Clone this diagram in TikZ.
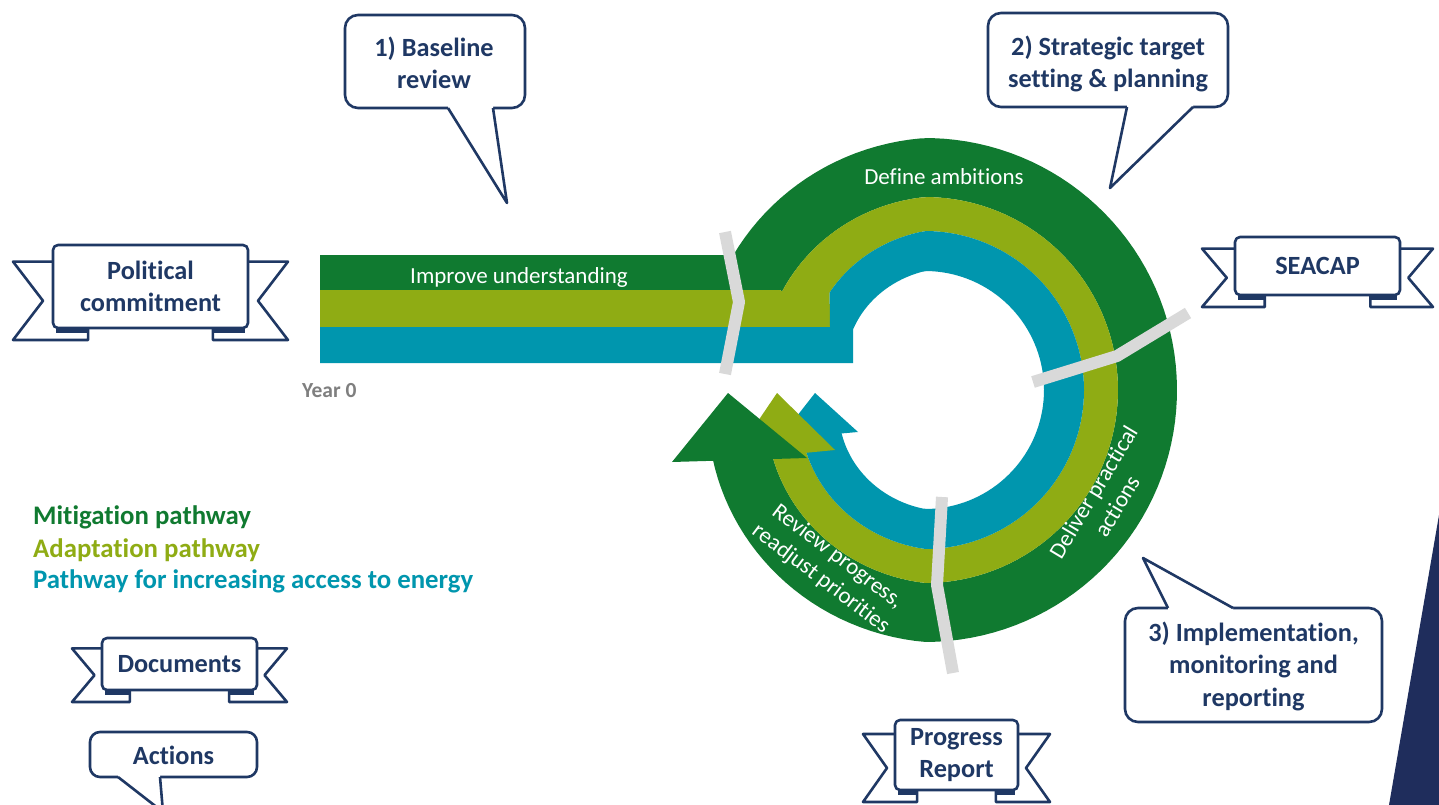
\documentclass[tikz,border=0pt]{standalone}
\usepackage{fontspec}
\setmainfont{Carlito}[Ligatures={NoCommon}]
\definecolor{mgreen}{HTML}{107A30}
\definecolor{mlime}{HTML}{8FAC14}
\definecolor{mteal}{HTML}{0096AE}
\definecolor{navy}{HTML}{1F3864}
\definecolor{sepgray}{HTML}{D9D9D9}
\definecolor{darknavy}{HTML}{1F2D5C}
\definecolor{yeargray}{HTML}{7F7F7F}
\newcommand\labfont{\bfseries\fontsize{26.3}{32.5}\selectfont}
\newcommand\spfont{\fontsize{23}{27.5}\selectfont}
\newcommand\legfont{\bfseries\fontsize{26.8}{32}\selectfont}
% ribbon banner: #1 name, #2 xl, #3 yt, #4 xr, #5 yb, #6 tail length, #7 text
\newcommand\myribbon[7]{%
  \pgfmathsetmacro\rbW{#4-#2}%
  \pgfmathsetmacro\rbH{#5-#3}%
  \pgfmathsetmacro\rbT{#3+0.2*\rbH}%
  \pgfmathsetmacro\rbB{#5+12}%
  \pgfmathsetmacro\rbN{(\rbT+\rbB)/2}%
  \pgfmathsetmacro\rbF{0.18*\rbW}%
  \pgfmathsetmacro\rbX{(#2+#4)/2}%
  \pgfmathsetmacro\rbY{(#3+#5)/2}%
  \filldraw[outl, fill=white] (#2+\rbF,#5) -- (#2+\rbF,\rbB) -- (#2-#6,\rbB) -- (#2-0.25*#6,\rbN) -- (#2-#6,\rbT) -- (#2+5,\rbT);
  \filldraw[outl, fill=white] (#4-\rbF,#5) -- (#4-\rbF,\rbB) -- (#4+#6,\rbB) -- (#4+0.25*#6,\rbN) -- (#4+#6,\rbT) -- (#4-5,\rbT);
  \fill[navy] (#2+3,#5) rectangle (#2+\rbF,#5+5);
  \fill[navy] (#4-3,#5) rectangle (#4-\rbF,#5+5);
  \node[ribbox, minimum width=\rbW pt, minimum height=\rbH pt] (#1) at (\rbX,\rbY) {#7};
}
% bubble tail: #1 base1, #2 tip, #3 base2, #4 #5 points inside the box
\newcommand\bubtail[5]{%
  \fill[white] #4 -- #1 -- #2 -- #3 -- #5 -- cycle;
  \draw[outl] #1 -- #2 -- #3;
}
\begin{document}
\begin{tikzpicture}[x=1pt, y=-1pt,
  declare function={
    rgo(\t)=252-0.32*max(0,270-\t)-0.4*max(0,\t-450);
    rlo(\t)=193-0.35*max(0,270-\t)-0.4*max(0,\t-450);
    rto(\t)=159-0.51*max(0,270-\t)-0.4*max(0,\t-450);
    rh(\t)=119-0.5*max(0,270-\t)-0.4*max(0,\t-450);
  },
  outl/.style={draw=navy, line width=2.6pt, line join=round},
  ribbox/.style={outl, fill=white, rounded corners=5pt, align=center, text=navy, font=\labfont, inner sep=0pt},
  bubble/.style={outl, fill=white, rounded corners=13pt, inner sep=0pt},
  labtext/.style={align=center, text=navy, font=\labfont, inner sep=0pt},
  sep/.style={draw=sepgray, line width=12pt, line join=round},
  sptext/.style={text=white, font=\spfont, align=center, inner sep=0pt},
  legtext/.style={font=\legfont, anchor=base west, inner sep=0pt}
]
\useasboundingbox (0,0) rectangle (1439,805);
\clip (0,0) rectangle (1439,805);
\fill[white] (0,0) rectangle (1439,805);

% dark navy corner
\fill[darknavy] (1439,515) -- (1389,805) -- (1439,805) -- cycle;

% bands
\fill[mgreen] (320,255) -- (733,255)
  -- plot[domain=215:522, samples=120] ({925+rgo(\x)*cos(\x)},{390+rgo(\x)*sin(\x)})
  -- plot[domain=522:214.6, samples=120] ({925+rlo(\x)*cos(\x)},{390+rlo(\x)*sin(\x)})
  -- (780,290) -- (320,290) -- cycle;
\fill[mlime] (320,290) -- (780,290)
  -- plot[domain=214.6:522, samples=120] ({925+rlo(\x)*cos(\x)},{390+rlo(\x)*sin(\x)})
  -- plot[domain=522:225.6, samples=120] ({925+rto(\x)*cos(\x)},{390+rto(\x)*sin(\x)})
  -- (830,327) -- (320,327) -- cycle;
\fill[mteal] (320,327) -- (830,327)
  -- plot[domain=225.6:522, samples=120] ({925+rto(\x)*cos(\x)},{390+rto(\x)*sin(\x)})
  -- plot[domain=522:220, samples=120] ({925+rh(\x)*cos(\x)},{390+rh(\x)*sin(\x)})
  -- (853,363) -- (320,363) -- cycle;

% arrow heads
\fill[mteal] (815,393) -- (858,432) -- (779,439) -- cycle;
\fill[mlime] (777,393) -- (835,450) -- (731.7,460) -- cycle;
\fill[mgreen] (728,393) -- (807,458) -- (672,462) -- cycle;

% separators
\coordinate (s1a) at (725,232); \coordinate (s1b) at (739,302); \coordinate (s1c) at (725,374);
\coordinate (s2a) at (1033,382); \coordinate (s2b) at (1117,356); \coordinate (s2c) at (1188,313);
\coordinate (s3a) at (942,497); \coordinate (s3b) at (937,585); \coordinate (s3c) at (953,673);
\draw[sep] (s1a) -- (s1b) -- (s1c);
\draw[sep] (s2a) -- (s2b) -- (s2c);
\draw[sep] (s3a) -- (s3b) -- (s3c);

% band texts
\node[sptext, anchor=base] (t1) at (519,283) {Improve understanding};
\node[sptext, anchor=base] (t2) at (944,185) {Define ambitions};
\node[sptext, rotate=59] (t3) at (1105,499) {Deliver practical\\actions};
\node[sptext, rotate=-37] (t4) at (829,568) {Review progress,\\readjust priorities};
\node[anchor=base west, inner sep=0pt, text=yeargray, font=\bfseries\fontsize{21.5}{24}\selectfont] (year) at (302,397) {Year 0};

% speech bubbles
\node[bubble, minimum width=180pt, minimum height=93pt] (b1) at (435,61.5) {};
\bubtail{(448,108)}{(507,203)}{(493,108)}{(448,102)}{(493,102)}
\node[labtext] (b1t) at (434,63) {1) Baseline\\review};
\node[bubble, minimum width=240pt, minimum height=94pt] (b2) at (1108,60) {};
\bubtail{(1127,107)}{(1110,188)}{(1193,107)}{(1127,101)}{(1193,101)}
\node[labtext] (b2t) at (1108,64) {2) Strategic target\\setting \& planning};
\node[bubble, minimum width=257pt, minimum height=114pt] (b3) at (1253.5,665) {};
\bubtail{(1168,608)}{(1143,558)}{(1233,608)}{(1168,614)}{(1233,614)}
\node[labtext] (b3t) at (1253.5,666) {3) Implementation,\\monitoring and\\reporting};
\node[bubble, rounded corners=10pt, minimum width=167pt, minimum height=45pt] (b4) at (173.5,754.5) {};
\bubtail{(118,777)}{(163,812)}{(160,777)}{(118,771)}{(160,771)}
\node[labtext] (b4t) at (173.5,755) {Actions};

% ribbons
\myribbon{r1}{53}{245}{248}{328}{40}{Political\\commitment}
\myribbon{r2}{1235}{237}{1400}{295}{33}{SEACAP}
\myribbon{r3}{102}{638}{257}{690}{30}{Documents}
\myribbon{r4}{895}{720}{1018}{790}{32}{Progress\\Report}

% legend
\node[legtext, text=mgreen] (l1) at (33,524) {Mitigation pathway};
\node[legtext, text=mlime] (l2) at (33,557) {Adaptation pathway};
\node[legtext, text=mteal] (l3) at (33,588) {Pathway for increasing access to energy};
\end{tikzpicture}
\end{document}
